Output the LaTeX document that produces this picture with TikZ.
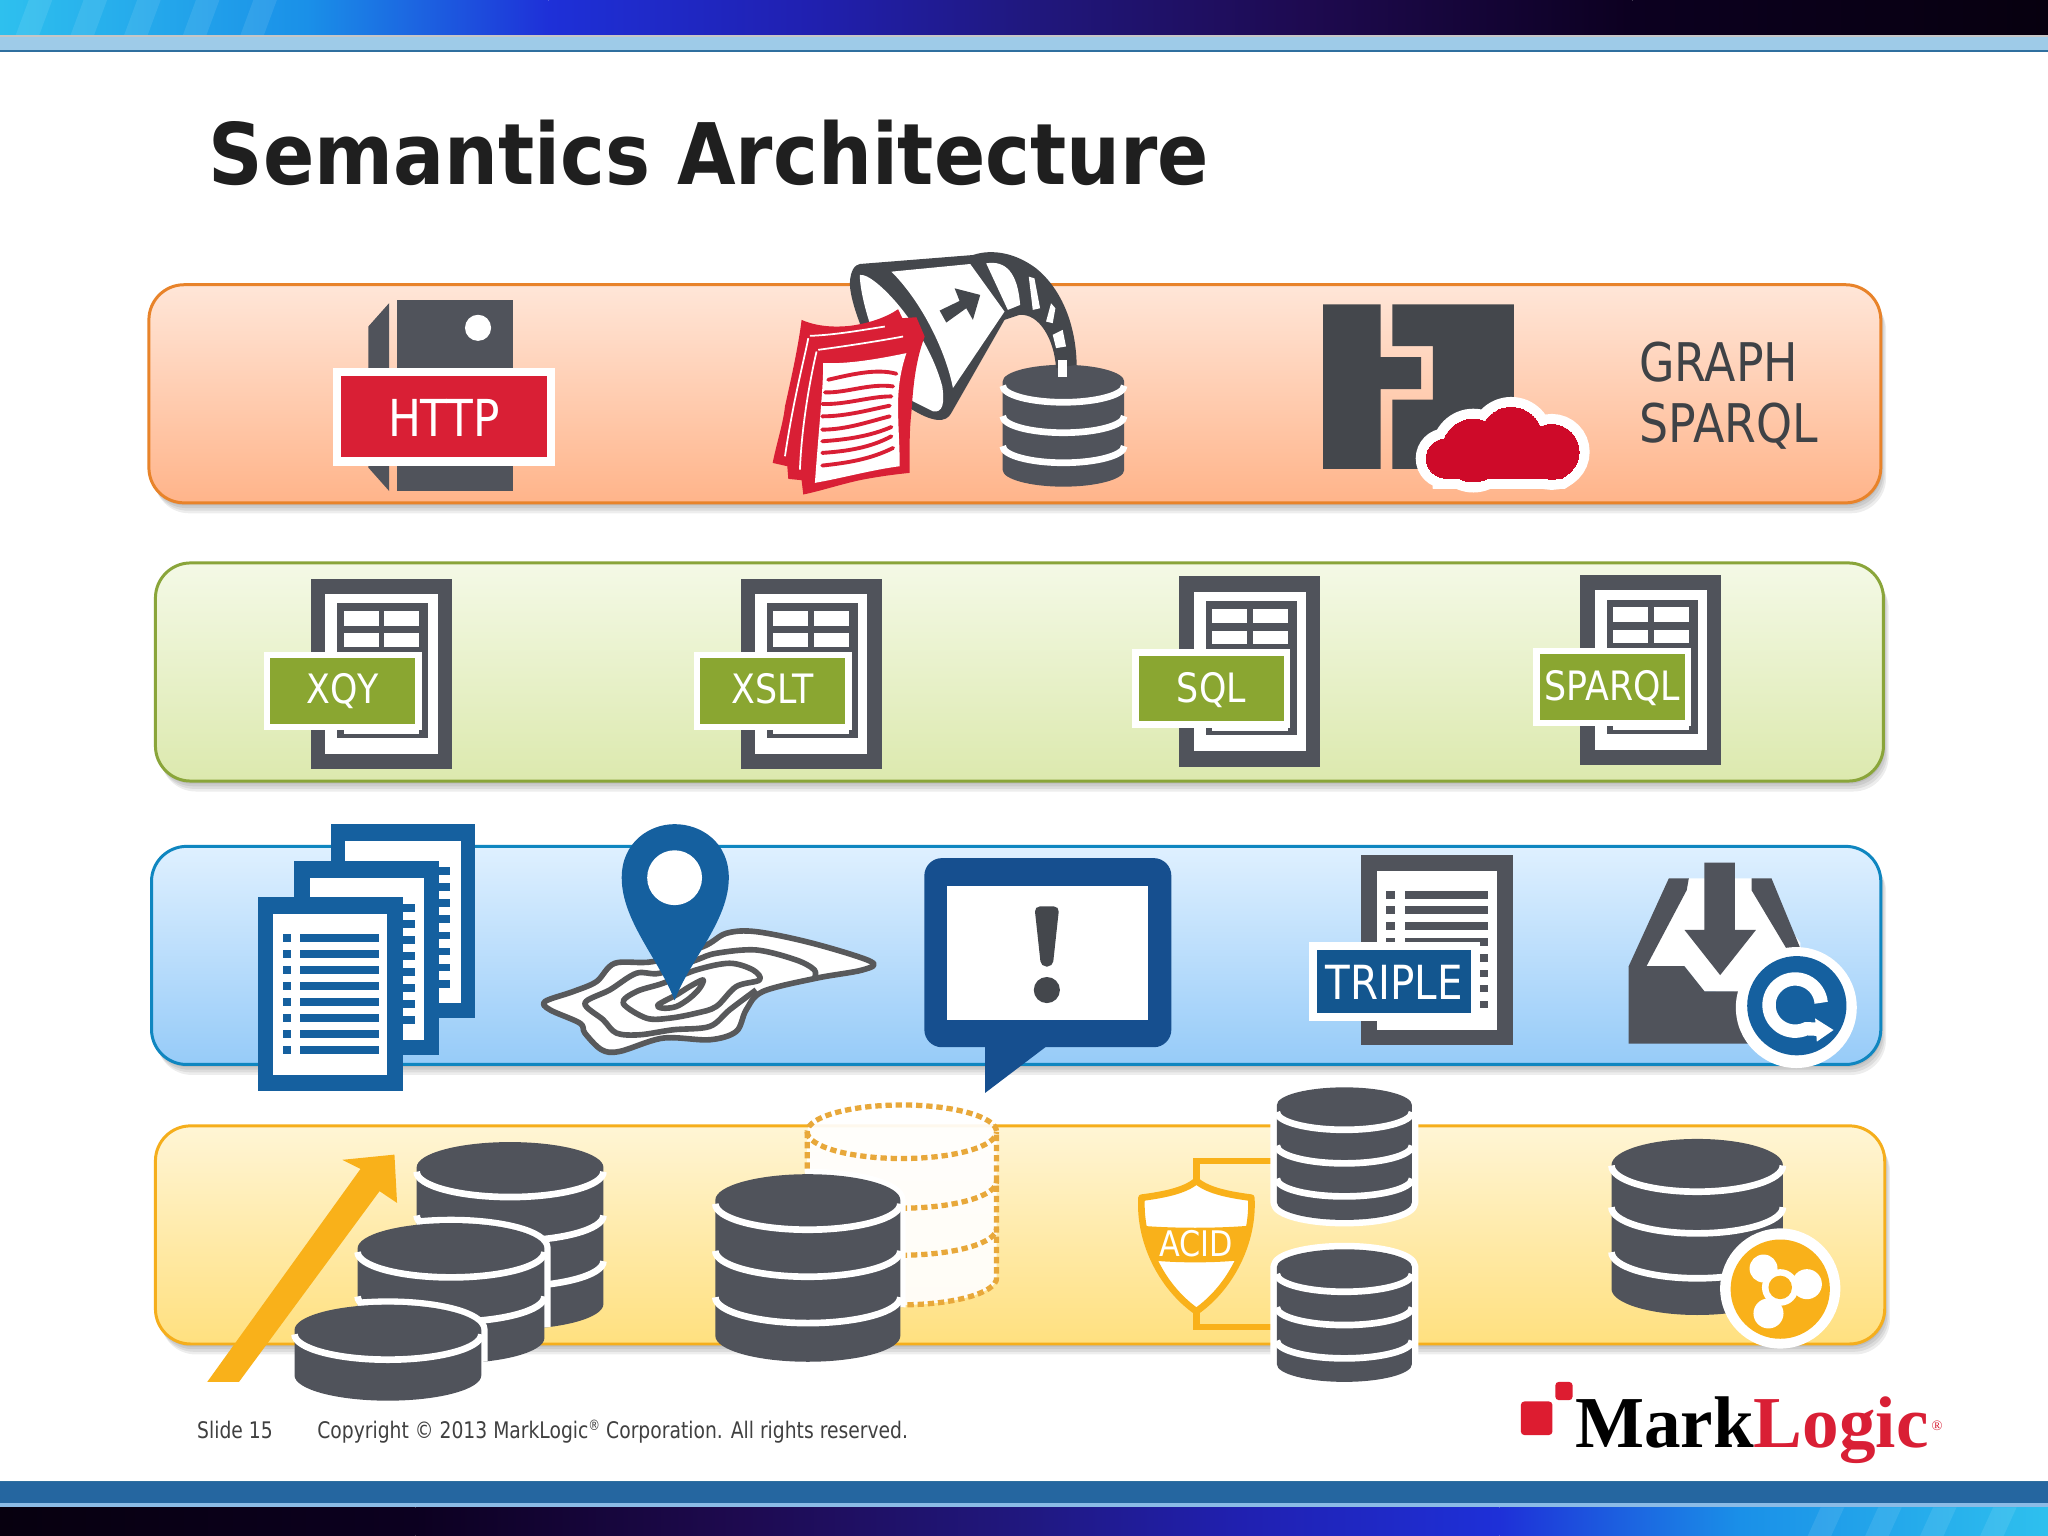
\documentclass[tikz,border=0pt]{standalone}
\usepackage{fontspec}
\setmainfont{DejaVu Sans}
\newfontfamily\titlefont[FakeStretch=0.892]{DejaVu Sans}
\newfontfamily\labelfont[FakeStretch=0.86]{DejaVu Sans}
\newfontfamily\footfont[FakeStretch=0.82]{DejaVu Sans}
\newfontfamily\logofont{Liberation Serif}
\newcommand\usz[1]{\fontsize{\fpeval{#1*0.3716}}{\fpeval{#1*0.3716*1.2}}\selectfont}
\definecolor{dk}{HTML}{50535B}
\definecolor{dkB}{HTML}{44474C}
\definecolor{mapgray}{HTML}{58595B}
\definecolor{rd}{HTML}{D91F35}
\definecolor{rdB}{HTML}{CE0A29}
\definecolor{grn}{HTML}{8AA631}
\definecolor{blu}{HTML}{15609F}
\definecolor{bluD}{HTML}{164F8F}
\definecolor{gold}{HTML}{F9B11A}
\definecolor{ghost}{HTML}{E8A83A}
\definecolor{txt}{HTML}{3F4246}
\definecolor{lightbar}{HTML}{9ECBE8}
\definecolor{barline}{HTML}{2F6F9F}
\definecolor{botbar}{HTML}{2566A0}
\definecolor{botlight}{HTML}{8BBBE6}
\definecolor{gA}{HTML}{2EC0EE}
\definecolor{gB}{HTML}{1A90E8}
\definecolor{gC}{HTML}{1E30D8}
\definecolor{gD}{HTML}{2020B0}
\definecolor{gE}{HTML}{201880}
\definecolor{gF}{HTML}{1E0A50}
\definecolor{gG}{HTML}{0C0020}
\definecolor{gH}{HTML}{07000F}
\definecolor{oT}{HTML}{FFE6D8}\definecolor{oB}{HTML}{FFB48A}\definecolor{oL}{HTML}{E8832A}
\definecolor{nT}{HTML}{F4F9E6}\definecolor{nB}{HTML}{DCE9AE}\definecolor{nL}{HTML}{8AA53A}
\definecolor{bT}{HTML}{DFF0FF}\definecolor{bB}{HTML}{96CBF8}\definecolor{bL}{HTML}{0F86C0}
\definecolor{yT}{HTML}{FFF5D5}\definecolor{yB}{HTML}{FFE07F}\definecolor{yL}{HTML}{F5AE1C}
\tikzset{
  txtnode/.style={inner sep=0pt,outer sep=0pt,font=\labelfont},
  wstripe/.style={draw=white,line width=1.9pt},
  bandshadow/.style={fill=black,fill opacity=.07,rounded corners=10pt},
  bandbox/.style={rounded corners=10pt,line width=.85pt},
  contour/.style={draw=mapgray,line width=1.6pt,line join=round},
  redline/.style={draw=rd,line width=1.1pt,line cap=round},
}
\newcommand\cylshape[5]{({#1-#3},#2) -- ({#1-#3},{#5-#4}) .. controls ({#1-#3},{#5-.45*#4}) and ({#1-.55*#3},#5) .. (#1,#5) .. controls ({#1+.55*#3},#5) and ({#1+#3},{#5-.45*#4}) .. ({#1+#3},{#5-#4}) -- ({#1+#3},#2) .. controls ({#1+#3},{#2-.55*#4}) and ({#1+.55*#3},{#2-#4}) .. (#1,{#2-#4}) .. controls ({#1-.55*#3},{#2-#4}) and ({#1-#3},{#2-.55*#4}) .. ({#1-#3},#2) -- cycle}
\newcommand\lowarc[4]{({#1-#2},{#4-#3}) .. controls ({#1-#2},{#4-.45*#3}) and ({#1-.55*#2},#4) .. (#1,#4) .. controls ({#1+.55*#2},#4) and ({#1+#2},{#4-.45*#3}) .. ({#1+#2},{#4-#3})}
% cx cy rx ry bottom stripes halo(pt)
\newcommand\dbcyl[7]{%
  \ifdim #7pt>0pt \draw[white,fill=white,line width=#7pt,line join=round] \cylshape{#1}{#2}{#3}{#4}{#5}; \fi
  \fill[dk] \cylshape{#1}{#2}{#3}{#4}{#5};
  \foreach \sy in {#6} {\draw[wstripe] \lowarc{#1}{#3}{#4}{\sy};}
}
% left top name text baseline
\newcommand\docicon[5]{%
  \fill[dk] (#1,#2) rectangle ++(108,146);
  \fill[white] ({#1+11},{#2+12}) rectangle ++(86,122);
  \fill[dk] ({#1+20},{#2+19}) rectangle ++(70,103);
  \fill[white] ({#1+25},{#2+25}) rectangle ++(27,11);
  \fill[white] ({#1+56},{#2+25}) rectangle ++(27,11);
  \fill[white] ({#1+25},{#2+42}) rectangle ++(27,10);
  \fill[white] ({#1+56},{#2+42}) rectangle ++(27,10);
  \fill[white] ({#1+25},{#2+56}) rectangle ++(58,63);
  \fill[white] ({#1-36},{#2+56}) rectangle ++(121,60);
  \fill[grn] ({#1-31},{#2+61}) rectangle ++(111,50);
  \node[txtnode,anchor=base,text=white,font=\labelfont\usz{31}] (#3) at ({#1+24.5},#5) {#4};
}
\begin{document}
\begin{tikzpicture}[x=0.0130612cm,y=-0.0130612cm]
\useasboundingbox (0,0) rectangle (1568,1176);
\fill[white] (0,0) rectangle (1568,1176);
% ---------- top bar
\shade[left color=gA,right color=gB] (0,0) rectangle (235,27);
\shade[left color=gB,right color=gC] (235,0) rectangle (420,27);
\shade[left color=gC,right color=gD] (420,0) rectangle (620,27);
\shade[left color=gD,right color=gE] (620,0) rectangle (780,27);
\shade[left color=gE,right color=gF] (780,0) rectangle (1000,27);
\shade[left color=gF,right color=gG] (1000,0) rectangle (1250,27);
\shade[left color=gG,right color=gH] (1250,0) rectangle (1568,27);
\foreach \sx in {12,54,95,140,184} {\fill[white,opacity=.09] (\sx,27) -- (\sx+10,0) -- (\sx+28,0) -- (\sx+18,27) -- cycle;}
\fill[white!55!gray] (0,27) rectangle (1568,28);
\fill[lightbar] (0,28) rectangle (1568,38);
\fill[barline] (0,38) rectangle (1568,40);
% ---------- bottom bar
\fill[botbar] (0,1134) rectangle (1568,1151);
\fill[barline] (0,1134) rectangle (1568,1135);
\fill[botlight] (0,1151) rectangle (1568,1154);
\shade[right color=gA,left color=gB] (1333,1154) rectangle (1568,1176);
\shade[right color=gB,left color=gC] (1148,1154) rectangle (1333,1176);
\shade[right color=gC,left color=gD] (948,1154) rectangle (1148,1176);
\shade[right color=gD,left color=gE] (788,1154) rectangle (948,1176);
\shade[right color=gE,left color=gF] (568,1154) rectangle (788,1176);
\shade[right color=gF,left color=gG] (318,1154) rectangle (568,1176);
\shade[right color=gG,left color=gH] (0,1154) rectangle (318,1176);
\foreach \sx in {1384,1428,1470,1516} {\fill[white,opacity=.09] (\sx,1176) -- (\sx+10,1154) -- (\sx+28,1154) -- (\sx+18,1176) -- cycle;}
% ---------- title
\node[txtnode,anchor=base west,font=\titlefont\bfseries\usz{65},text=black!88] (title) at (160,141) {Semantics Architecture};
% ---------- band shadows
\foreach \ox/\oy in {1/2,2/4,3/6,4/8} {
  \fill[bandshadow,shift={(\ox,\oy)}] (114,218) rectangle (1440,385);
  \fill[bandshadow,shift={(\ox,\oy)}] (119,431) rectangle (1442,598);
  \fill[bandshadow,shift={(\ox,\oy)}] (116,648) rectangle (1440,815);
  \fill[bandshadow,shift={(\ox,\oy)}] (119,862) rectangle (1443,1029);
}
% ---------- bands
\shade[top color=oT,bottom color=oB] (114,218) [rounded corners=10pt] rectangle (1440,385);
\draw[bandbox,draw=oL] (114,218) rectangle (1440,385);
\shade[top color=nT,bottom color=nB] (119,431) [rounded corners=10pt] rectangle (1442,598);
\draw[bandbox,draw=nL] (119,431) rectangle (1442,598);
\shade[top color=bT,bottom color=bB] (116,648) [rounded corners=10pt] rectangle (1440,815);
\draw[bandbox,draw=bL] (116,648) rectangle (1440,815);
\shade[top color=yT,bottom color=yB] (119,862) [rounded corners=10pt] rectangle (1443,1029);
\draw[bandbox,draw=yL] (119,862) rectangle (1443,1029);
% ---------- HTTP server
\fill[dk] (304,230) rectangle (393,376);
\fill[dk] (282,250) -- (298,232) -- (298,376) -- (282,358) -- cycle;
\fill[white] (366,251) circle (10);
\fill[white] (255,282) rectangle (425,357);
\fill[rd] (261,288) rectangle (419,350);
\node[txtnode,text=white,font=\labelfont\usz{39}] (http) at (340,320) {HTTP};
% ---------- pour icon
\dbcyl{814.2}{292}{46.5}{12.7}{372.6}{308,331.3,354.3}{0}
\begin{scope}[shift={(581.9,183.8)},x=0.003333cm,y=-0.003333cm]
  \fill[dkB] (270,130) .. controls (272,90) and (285,75) .. (300,72) -- (640,45) .. controls (700,25) and (770,40) .. (830,85) .. controls (910,150) and (950,260) .. (952,375) -- (890,385) .. controls (885,300) and (840,220) .. (780,225) -- (735,240) -- (575,520) .. controls (560,550) and (520,550) .. (450,505) .. controls (350,400) and (270,200) .. (270,130) -- cycle;
  \fill[white] (300,105) .. controls (340,95) and (500,260) .. (548,440) .. controls (555,490) and (550,520) .. (520,515) -- (450,480) .. controls (360,380) and (300,180) .. (300,105) -- cycle;
  \fill[white] (395,95) -- (632,72) -- (735,215) -- (580,445) .. controls (560,340) and (490,190) .. (395,95) -- cycle;
  \fill[white] (680,70) .. controls (740,60) and (775,100) .. (782,195) -- (745,210) -- cycle;
  \fill[dkB] (540,212) -- (600,183) -- (585,145) -- (662,165) -- (640,240) -- (620,205) -- (560,248) -- cycle;
  \fill[white] (808,110) -- (825,115) -- (842,205) -- (820,210) -- cycle;
  \fill[white] (875,190) -- (888,205) -- (880,250) -- (860,245) -- cycle;
  \fill[white] (880,285) -- (910,270) -- (920,320) -- (890,325) -- cycle;
  \fill[white] (897,360) -- (923,360) -- (923,412) -- (897,412) -- cycle;
  % papers
  \fill[rd] (125,240) .. controls (175,262) and (230,262) .. (270,258) .. controls (330,250) and (380,232) .. (415,208) -- (428,235) -- (470,232) -- (495,290) .. controls (465,370) and (460,450) .. (455,520) .. controls (448,580) and (450,640) .. (450,700) .. controls (400,705) and (350,712) .. (300,722) .. controls (240,735) and (180,755) .. (130,765) -- (125,722) -- (85,718) -- (82,680) -- (38,670) .. controls (50,610) and (70,550) .. (75,500) .. controls (95,410) and (115,320) .. (125,240) -- cycle;
  \draw[white,line width=.5pt] (150,288) .. controls (230,285) and (310,270) .. (375,260);
  \draw[white,line width=.5pt] (175,330) .. controls (250,320) and (350,305) .. (430,290);
  \draw[white,line width=.5pt] (145,295) .. controls (135,350) and (100,480) .. (75,650);
  \draw[white,line width=.5pt] (170,335) .. controls (150,420) and (125,560) .. (120,690);
  \fill[white] (190,370) .. controls (250,372) and (320,365) .. (440,340) .. controls (420,400) and (415,450) .. (415,500) .. controls (415,560) and (420,620) .. (420,680) .. controls (340,690) and (250,715) .. (165,730) .. controls (170,660) and (175,600) .. (180,540) .. controls (185,480) and (190,420) .. (190,370) -- cycle;
  \draw[redline] (205,420) .. controls (270,405) and (350,385) .. (410,402);
  \draw[redline] (195,458) .. controls (260,460) and (330,430) .. (400,440);
  \draw[redline] (187,493) .. controls (260,495) and (330,470) .. (395,470);
  \draw[redline] (187,530) .. controls (260,530) and (330,510) .. (390,498);
  \draw[redline] (187,570) .. controls (260,570) and (330,545) .. (390,530);
  \draw[redline] (187,605) .. controls (260,600) and (330,590) .. (395,562);
  \draw[redline] (187,640) .. controls (260,635) and (330,625) .. (395,590);
  \draw[redline] (187,678) .. controls (260,670) and (330,660) .. (400,625);
\end{scope}
% ---------- cloud door icon
\fill[dkB] (1013,233) -- (1057,233) -- (1057,273.5) -- (1088,273.5) -- (1088,298) -- (1057,298) -- (1057,359) -- (1013,359) -- cycle;
\fill[dkB] (1066,233) -- (1159,233) -- (1159,345) -- (1100,359) -- (1066,359) -- (1066,306) -- (1097,306) -- (1097,265) -- (1066,265) -- cycle;
\foreach \cc/\ww in {white/6pt,rdB/0pt} {
  \filldraw[draw=\cc,fill=\cc,line width=\ww] (1107,351) circle (15);
  \filldraw[draw=\cc,fill=\cc,line width=\ww] (1128,345) circle (24);
  \filldraw[draw=\cc,fill=\cc,line width=\ww] (1157,336) circle (24);
  \filldraw[draw=\cc,fill=\cc,line width=\ww] (1188,346) circle (21);
  \filldraw[draw=\cc,fill=\cc,line width=\ww] (1105,346) rectangle (1190,366);
  \filldraw[draw=\cc,fill=\cc,line width=\ww] (1196,366) -- (1105,366) -- (1105,351) -- (1196,351) .. controls (1205,351) and (1209,358) .. (1196,366) -- cycle;
}
\node[txtnode,anchor=base west,font=\labelfont\usz{40.8},text=txt] (graph) at (1255,292) {GRAPH};
\node[txtnode,anchor=base west,font=\labelfont\usz{40.8},text=txt] (sparqlA) at (1255,339) {SPARQL};
% ---------- document icons
\docicon{238}{443}{xqy}{XQY}{539}
\docicon{567}{443}{xslt}{XSLT}{539}
\docicon{903}{441}{sql}{SQL}{538}
\docicon{1210}{440}{sparqlB}{SPARQL}{536}
% ---------- stacked pages
\fill[blu] (253.4,631) rectangle (364,779.6);
\fill[white] (264.5,644) rectangle (352.7,768);
\foreach \r in {0,...,7} {\fill[blu] (336,{664+12.3*\r}) rectangle (344.6,{670+12.3*\r});}
\fill[blu] (225.3,659) rectangle (336,807.8);
\fill[white] (237,672) rectangle (324.7,796);
\foreach \r in {0,...,7} {\fill[blu] (308.5,{692+12.3*\r}) rectangle (318,{698+12.3*\r});}
\fill[blu] (197.4,687) rectangle (308.5,835);
\fill[white] (209,700) rectangle (296,823);
\foreach \r in {0,...,7} {
  \fill[blu] (216.7,{715+12.3*\r}) rectangle (223,{721+12.3*\r});
  \fill[blu] (229.7,{715+12.3*\r}) rectangle (289.8,{721+12.3*\r});
}
% ---------- map and pin
\begin{scope}[shift={(405.8,704.4)},x=0.003333cm,y=-0.003333cm]
  \filldraw[contour,fill=white] plot[smooth cycle,tension=.55] coordinates {(45,245) (130,215) (200,185) (255,130) (370,125) (520,80) (590,40) (680,35) (850,70) (1025,125) (1000,150) (860,175) (700,215) (650,270) (620,335) (540,360) (400,355) (270,395) (215,390) (165,340) (150,310) (60,270)};
  \draw[contour] plot[smooth,tension=.55] coordinates {(680,210) (600,270) (540,320) (430,330) (330,345) (260,340) (220,300) (165,250) (240,210) (320,160) (390,160) (500,120) (560,100) (680,90) (800,120) (855,150) (855,175)};
  \draw[contour] plot[smooth cycle,tension=.55] coordinates {(280,250) (320,215) (400,190) (500,150) (600,130) (670,150) (690,180) (620,200) (560,260) (500,280) (420,295) (350,295)};
  \draw[contour] plot[smooth cycle,tension=.55] coordinates {(385,255) (440,225) (480,200) (520,180) (510,205) (480,235) (440,260) (400,265)};
\end{scope}
\fill[blu] (516.5,766) .. controls (505,735) and (476,705) .. (476,672) .. controls (476,645) and (497,631) .. (516.5,631) .. controls (537,631) and (558,645) .. (558,672) .. controls (558,705) and (528,735) .. (516.5,766) -- cycle;
\fill[white] (516.5,672) circle (21);
% ---------- alert bubble
\fill[bluD,rounded corners=5pt] (707.7,657) rectangle (896.8,801.8);
\fill[bluD] (754.3,800) -- (754.3,836.7) -- (802.7,800) -- cycle;
\fill[white] (725,678.4) rectangle (879,781);
\fill[dkB,rounded corners=1.5pt] (792,694) -- (811,694) -- (806,740) -- (797,740) -- cycle;
\fill[dkB] (801.5,758) circle (10);
% ---------- triple document
\fill[dk] (1042,654.7) rectangle (1158.7,800);
\fill[white] (1054.5,666.7) rectangle (1146,788.7);
\foreach \yy in {682,694,706,718} {
  \fill[dk] (1061,\yy) rectangle ++(7,6);
  \fill[dk] (1076,\yy) rectangle (1139,{\yy+6});
}
\foreach \yy in {730.7,742.7,754,766.5} {\fill[dk] (1132.4,\yy) rectangle ++(7,5.6);}
\fill[white] (1001.9,721) rectangle (1133,781.8);
\fill[blu!90!black] (1008.4,727.4) rectangle (1126.6,775.9);
\node[txtnode,text=white,font=\labelfont\usz{36}] (triple) at (1067.5,752) {TRIPLE};
% ---------- inbox
\fill[white] (1293,672.5) -- (1341,672.5) -- (1378.5,722) -- (1378,760) -- (1305,759) -- (1289.6,739.7) -- (1260.6,739.7) -- cycle;
\fill[dk] (1247,739.7) -- (1277.7,672.5) -- (1293,672.5) -- (1291.4,681.5) -- (1260.6,739.7) -- cycle;
\fill[dk] (1341,672.5) -- (1356.3,672.5) -- (1380,730) -- (1370,730) -- (1341,681.5) -- cycle;
\fill[dk] (1247,739.7) -- (1289.6,739.7) -- (1305,759) -- (1345,759) -- (1385,739) -- (1400,799) -- (1247,799) -- cycle;
\fill[dk] (1305,660.5) -- (1328.3,660.5) -- (1328.3,712) -- (1344.4,712) -- (1317,746.6) -- (1289.7,712) -- (1305,712) -- cycle;
\fill[white] (1375.3,771.4) circle (46.3);
\fill[blu] (1375.7,770) circle (38);
\draw[white,line width=3.8pt] (1392,788) -- plot[domain=-295:-5,samples=40] ({1374.4+20*cos(\x)},{769.5+20*sin(\x)});
\fill[white] (1389.7,779.7) -- (1391,797.5) -- (1403.8,788.6) -- cycle;
% ---------- growth stack
\fill[gold] (158.7,1058) -- (276,895) -- (262,888) -- (302,884) -- (304,921) -- (290.6,912) -- (183,1058) -- cycle;
\dbcyl{390.5}{893.8}{71.5}{19.4}{1017.8}{916.5,950,985}{0}
\begin{scope}
  \clip \cylshape{390.5}{893.8}{71.5}{19.4}{1017.8};
  \draw[white,line width=3.6pt] \cylshape{345.3}{955.8}{71.5}{19.4}{1043.8};
\end{scope}
\dbcyl{345.3}{955.8}{71.5}{19.4}{1043.8}{978,1012}{0}
\begin{scope}
  \clip \cylshape{345.3}{955.8}{71.5}{19.4}{1043.8};
  \draw[white,line width=3.6pt] \cylshape{297}{1018.3}{71.5}{19.4}{1072.4};
\end{scope}
\dbcyl{297}{1018.3}{71.5}{19.4}{1072.4}{1041}{0}
% ---------- ghost and solid db
\fill[white,opacity=.92] \cylshape{690.5}{866.5}{72.5}{20.5}{999};
\begin{scope}[draw=ghost,line width=1.5pt,dash pattern=on 1.8pt off 1.1pt]
  \draw \cylshape{690.5}{866.5}{72.5}{20.5}{999};
  \draw \lowarc{690.5}{72.5}{20.5}{887};
  \draw \lowarc{690.5}{72.5}{20.5}{925};
  \draw \lowarc{690.5}{72.5}{20.5}{961};
\end{scope}
\begin{scope}
  \clip \cylshape{690.5}{866.5}{74.5}{22}{1001};
  \draw[white,fill=white,line width=3pt] \cylshape{618.5}{918.8}{70.8}{19.8}{1042.6};
\end{scope}
\dbcyl{618.5}{918.8}{70.8}{19.8}{1042.6}{941.5,977.5,1013}{0}
% ---------- ACID
\draw[gold,line width=1.9pt] (916,905) -- (916,889) -- (977,889);
\draw[gold,line width=1.9pt] (916,1004) -- (916,1016) -- (977,1016);
\dbcyl{1029.3}{846}{51.7}{13.5}{934}{865,890.7,916}{3.7}
\dbcyl{1029.3}{970}{51.7}{13.5}{1058}{989,1014.5,1040}{3.7}
\begin{scope}
  \path[clip] (916,904) .. controls (925,912) and (943,915) .. (958,917) .. controls (960,950) and (943,985) .. (916,1004) .. controls (889,985) and (872,950) .. (874,917) .. controls (889,915) and (907,912) .. (916,904) -- cycle;
  \fill[white] (860,895) rectangle (970,1010);
  \fill[gold] (860,937) .. controls (890,941) and (940,941) .. (970,937) -- (970,962) .. controls (940,968) and (890,968) .. (860,962) -- cycle;
\end{scope}
\draw[gold,line width=1.9pt,line join=round] (916,904) .. controls (925,912) and (943,915) .. (958,917) .. controls (960,950) and (943,985) .. (916,1004) .. controls (889,985) and (872,950) .. (874,917) .. controls (889,915) and (907,912) .. (916,904) -- cycle;
\node[txtnode,text=white,font=\labelfont\usz{27}] (acid) at (916,952) {ACID};
% ---------- right db with badge
\dbcyl{1299.4}{892}{65.6}{20}{1006.8}{912.4,944.3,978.7}{0}
\fill[white] (1363,986.5) circle (46);
\fill[gold] (1363,987) circle (38);
\begin{scope}[white,line width=3.6pt]
  \draw (1363,985.7) -- (1350.2,971.2);
  \draw (1363,985.7) -- (1383.4,983.2);
  \draw (1363,985.7) -- (1354,1005.6);
  \fill (1350.2,971.2) circle (10.7);
  \fill (1383.4,983.2) circle (11.5);
  \fill (1354,1005.6) circle (11.5);
\end{scope}
\fill[white] (1363,985.7) circle (14);
\fill[gold] (1363,985.7) circle (9);
% ---------- footer
\node[txtnode,anchor=base west,font=\footfont\usz{17.5},text=black!75] (slide) at (151,1101) {Slide 15};
\node[txtnode,anchor=base west,font=\footfont\usz{17.5},text=black!75] (copy) at (243,1101) {Copyright © 2013 MarkLogic\raisebox{.6ex}{\usz{11}®} Corporation. All rights reserved.};
% ---------- logo
\fill[rd!90!red,rounded corners=1pt] (1190.8,1058) rectangle (1204,1072);
\fill[rd!90!red,rounded corners=1pt] (1164.4,1073) rectangle (1188.6,1098.7);
\node[txtnode,anchor=base west,font=\logofont\bfseries\usz{56},text=black] (logo) at (1206,1108) {Mark\textcolor{rd}{Logic}};
\node[txtnode,font=\logofont\usz{11},text=rd] (logoreg) at (1483,1092) {®};
\end{tikzpicture}
\end{document}
